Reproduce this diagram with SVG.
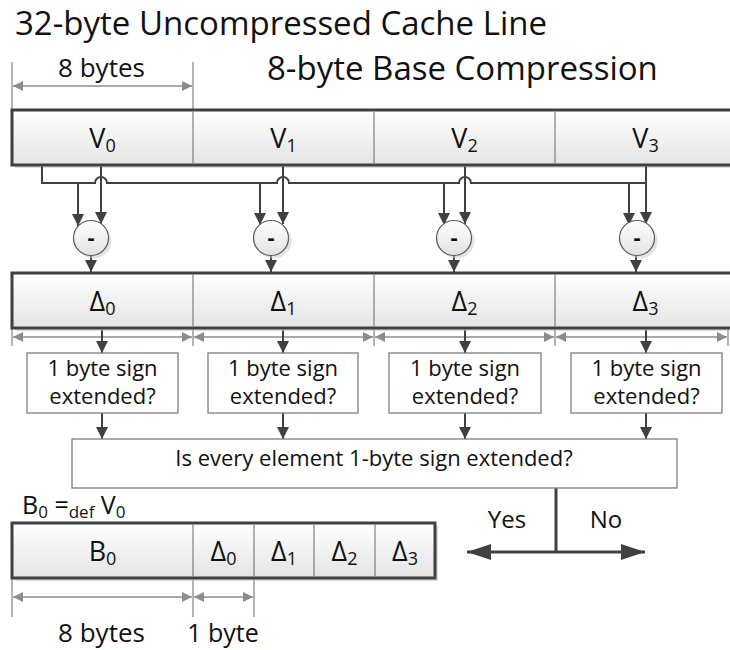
<svg xmlns="http://www.w3.org/2000/svg" width="730" height="650" viewBox="0 0 730 650">
<style>
text{font-family:"Open Sans","Noto Sans","Liberation Sans",sans-serif;fill:#111}
.t{font-size:33px}
.lbl{font-size:22px;text-anchor:middle}
.cell{font-size:27px;text-anchor:middle}
.dimt{font-size:26px;text-anchor:middle}
.row{fill:url(#gRow);stroke:#404040;stroke-width:3}
.shadow{fill:#bfbfbf;opacity:.55}
.div{stroke:#7f7f7f;stroke-width:1.2;fill:none}
.box{fill:#fff;stroke:#7f7f7f;stroke-width:1.3}
.con{stroke:#404040;stroke-width:2;fill:none}
.arr{stroke:#404040;stroke-width:2;fill:none;marker-end:url(#ah)}
.dim{stroke:#8c8c8c;stroke-width:1.3;fill:none;marker-start:url(#dh);marker-end:url(#dh)}
.tick{stroke:#8c8c8c;stroke-width:1.3;fill:none}
.circ{fill:url(#gCirc);stroke:#595959;stroke-width:1.2}
.minus{font-size:22px;font-weight:bold;text-anchor:middle}
</style>
<defs>
<linearGradient id="gRow" x1="0" y1="0" x2="0" y2="1">
<stop offset="0" stop-color="#ffffff"/>
<stop offset="1" stop-color="#e4e4e4"/>
</linearGradient>
<linearGradient id="gCirc" x1="0" y1="0" x2="0" y2="1">
<stop offset="0" stop-color="#ffffff"/>
<stop offset="1" stop-color="#e2e2e2"/>
</linearGradient>
<marker id="ah" viewBox="0 0 12 12" refX="12" refY="6" markerWidth="12" markerHeight="12" markerUnits="userSpaceOnUse" orient="auto">
<path d="M0,0 L12,6 L0,12 z" fill="#404040"/>
</marker>
<marker id="dh" viewBox="0 0 10 10" refX="10" refY="5" markerWidth="10" markerHeight="10" markerUnits="userSpaceOnUse" orient="auto-start-reverse">
<path d="M0,0 L10,5 L0,10 z" fill="#8c8c8c"/>
</marker>
<marker id="bh" viewBox="0 0 24 16" refX="24" refY="8" markerWidth="24" markerHeight="16" markerUnits="userSpaceOnUse" orient="auto-start-reverse">
<path d="M0,0 L24,8 L0,16 z" fill="#404040"/>
</marker>
</defs>

<g id="titles">
<text class="t" x="15" y="35">32-byte Uncompressed Cache Line</text>
<text class="t" x="267" y="80">8-byte Base Compression</text>
</g>

<g id="dimensions">
<line class="tick" x1="12" y1="62" x2="12" y2="110"/>
<line class="tick" x1="193" y1="62" x2="193" y2="110"/>
<line class="dim" x1="13" y1="86" x2="192" y2="86"/>
<text class="dimt" x="101.5" y="77">8 bytes</text>

<line class="tick" x1="12" y1="328" x2="12" y2="346"/>
<line class="tick" x1="193" y1="328" x2="193" y2="346"/>
<line class="tick" x1="374" y1="328" x2="374" y2="346"/>
<line class="tick" x1="555" y1="328" x2="555" y2="346"/>
<line class="tick" x1="728" y1="328" x2="728" y2="346"/>
<line class="dim" x1="13" y1="337" x2="192" y2="337"/>
<line class="dim" x1="194" y1="337" x2="373" y2="337"/>
<line class="dim" x1="375" y1="337" x2="554" y2="337"/>
<line class="dim" x1="556" y1="337" x2="727" y2="337"/>

<line class="tick" x1="12" y1="579" x2="12" y2="617"/>
<line class="tick" x1="193" y1="579" x2="193" y2="617"/>
<line class="tick" x1="254" y1="579" x2="254" y2="617"/>
<line class="dim" x1="13" y1="597" x2="192" y2="597"/>
<line class="dim" x1="194" y1="597" x2="253" y2="597"/>
<text class="dimt" x="101.5" y="642">8 bytes</text>
<text class="dimt" x="223" y="642" style="font-size:25px">1 byte</text>
</g>

<g id="v-row">
<rect class="shadow" x="15" y="113" width="724" height="55"/>
<rect class="row" x="12" y="110" width="724" height="55"/>
<line class="div" x1="193" y1="111.5" x2="193" y2="163.5"/>
<line class="div" x1="374" y1="111.5" x2="374" y2="163.5"/>
<line class="div" x1="555" y1="111.5" x2="555" y2="163.5"/>
<text class="cell" x="102.5" y="148">V<tspan dy="4" font-size="18">0</tspan></text>
<text class="cell" x="283.5" y="148">V<tspan dy="4" font-size="18">1</tspan></text>
<text class="cell" x="464.5" y="148">V<tspan dy="4" font-size="18">2</tspan></text>
<text class="cell" x="645.5" y="148">V<tspan dy="4" font-size="18">3</tspan></text>
</g>

<g id="connectors">
<path class="con" d="M42,166.5 V183 H95 A6,6 0 0 1 107,183 H277 A6,6 0 0 1 289,183 H459 A6,6 0 0 1 471,183 H646"/>
<path class="arr" d="M101,166.5 V224"/>
<path class="arr" d="M78,183 V226"/>
<path class="arr" d="M283,166.5 V224"/>
<path class="arr" d="M260,183 V225"/>
<path class="arr" d="M465,166.5 V224"/>
<path class="arr" d="M444,183 V225"/>
<path class="arr" d="M646,166.5 V224"/>
<path class="arr" d="M629,183 V225"/>
<path class="arr" d="M91,255.5 V272"/>
<path class="arr" d="M271,255.5 V272"/>
<path class="arr" d="M454,255.5 V272"/>
<path class="arr" d="M636,255.5 V272"/>
<path class="arr" d="M102,329.5 V353"/>
<path class="arr" d="M283,329.5 V353"/>
<path class="arr" d="M465,329.5 V353"/>
<path class="arr" d="M646,329.5 V353"/>
<path class="arr" d="M102,413 V439"/>
<path class="arr" d="M283,413 V439"/>
<path class="arr" d="M465,413 V439"/>
<path class="arr" d="M646,413 V439"/>
<path d="M556,488 V552" stroke="#404040" stroke-width="3" fill="none"/>
<path d="M467,552 H645" stroke="#404040" stroke-width="3" fill="none" marker-start="url(#bh)" marker-end="url(#bh)"/>
</g>

<g id="sub0">
<circle cx="94" cy="241" r="17.5" fill="#c8c8c8" opacity=".5"/>
<circle class="circ" cx="91" cy="238" r="17.5"/>
<text class="minus" x="91" y="245">-</text>
</g>
<g id="sub1">
<circle cx="274" cy="241" r="17.5" fill="#c8c8c8" opacity=".5"/>
<circle class="circ" cx="271" cy="238" r="17.5"/>
<text class="minus" x="271" y="245">-</text>
</g>
<g id="sub2">
<circle cx="457" cy="241" r="17.5" fill="#c8c8c8" opacity=".5"/>
<circle class="circ" cx="454" cy="238" r="17.5"/>
<text class="minus" x="454" y="245">-</text>
</g>
<g id="sub3">
<circle cx="640" cy="241" r="17.5" fill="#c8c8c8" opacity=".5"/>
<circle class="circ" cx="637" cy="238" r="17.5"/>
<text class="minus" x="637" y="245">-</text>
</g>

<g id="delta-row">
<rect class="shadow" x="15" y="276" width="724" height="55"/>
<rect class="row" x="12" y="273" width="724" height="55"/>
<line class="div" x1="193" y1="274.5" x2="193" y2="326.5"/>
<line class="div" x1="374" y1="274.5" x2="374" y2="326.5"/>
<line class="div" x1="555" y1="274.5" x2="555" y2="326.5"/>
<text class="cell" x="102.5" y="311">Δ<tspan dy="4" font-size="18">0</tspan></text>
<text class="cell" x="283.5" y="311">Δ<tspan dy="4" font-size="18">1</tspan></text>
<text class="cell" x="464.5" y="311">Δ<tspan dy="4" font-size="18">2</tspan></text>
<text class="cell" x="645.5" y="311">Δ<tspan dy="4" font-size="18">3</tspan></text>
</g>

<g id="check0">
<rect class="box" x="27" y="353" width="151" height="60"/>
<text class="lbl" x="102.5" y="376">1 byte sign</text>
<text class="lbl" x="102.5" y="404">extended?</text>
</g>
<g id="check1">
<rect class="box" x="208" y="353" width="150" height="60"/>
<text class="lbl" x="283" y="376">1 byte sign</text>
<text class="lbl" x="283" y="404">extended?</text>
</g>
<g id="check2">
<rect class="box" x="389" y="353" width="152" height="60"/>
<text class="lbl" x="465" y="376">1 byte sign</text>
<text class="lbl" x="465" y="404">extended?</text>
</g>
<g id="check3">
<rect class="box" x="571" y="353" width="151" height="60"/>
<text class="lbl" x="646.5" y="376">1 byte sign</text>
<text class="lbl" x="646.5" y="404">extended?</text>
</g>

<g id="all-check">
<rect class="box" x="72" y="439" width="605" height="49"/>
<text class="lbl" x="374" y="466">Is every element 1-byte sign extended?</text>
</g>

<g id="decision-labels">
<text class="lbl" x="507" y="528" style="font-size:24px">Yes</text>
<text class="lbl" x="606" y="528" style="font-size:24px">No</text>
</g>

<g id="base-def">
<text x="22" y="514" style="font-size:25px">B<tspan dy="4" font-size="17">0</tspan><tspan dy="-4"> =</tspan><tspan dy="4" font-size="17">def</tspan><tspan dy="-4"> V</tspan><tspan dy="4" font-size="17">0</tspan></text>
</g>

<g id="compressed-row">
<rect class="shadow" x="15" y="526" width="423" height="55"/>
<rect class="row" x="12" y="523" width="423" height="55"/>
<line class="div" x1="193" y1="524.5" x2="193" y2="576.5"/>
<line class="div" x1="254" y1="524.5" x2="254" y2="576.5"/>
<line class="div" x1="314" y1="524.5" x2="314" y2="576.5"/>
<line class="div" x1="375" y1="524.5" x2="375" y2="576.5"/>
<text class="cell" x="102.5" y="561">B<tspan dy="4" font-size="18">0</tspan></text>
<text class="cell" x="223.5" y="561">Δ<tspan dy="4" font-size="18">0</tspan></text>
<text class="cell" x="284" y="561">Δ<tspan dy="4" font-size="18">1</tspan></text>
<text class="cell" x="344.5" y="561">Δ<tspan dy="4" font-size="18">2</tspan></text>
<text class="cell" x="405" y="561">Δ<tspan dy="4" font-size="18">3</tspan></text>
</g>
</svg>
